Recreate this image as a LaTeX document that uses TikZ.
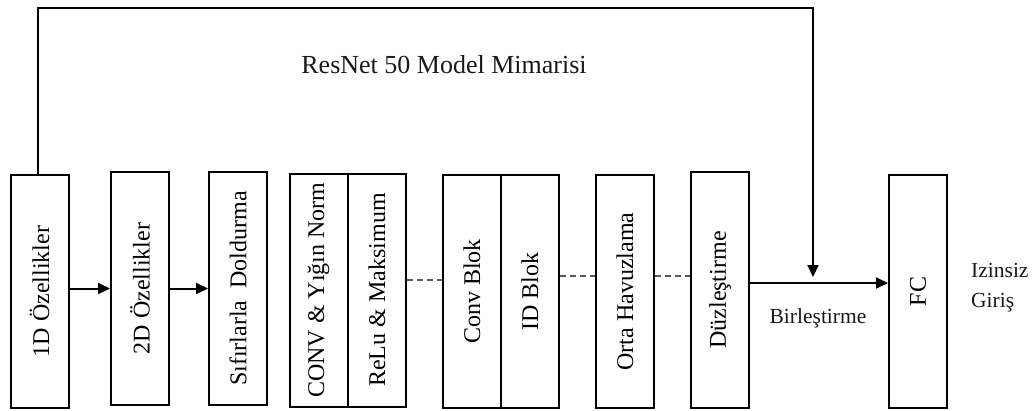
\documentclass[tikz,border=0pt]{standalone}
\usepackage{fontspec}
\setmainfont{Liberation Serif}
\usetikzlibrary{arrows.meta,calc}

\tikzset{
  blk/.style={draw=black, line width=2pt, inner sep=0pt,
    minimum width=58pt, minimum height=233pt,
    font=\fontsize{24}{28}\selectfont},
  flow/.style={line width=2pt, -{Triangle[length=12pt,width=11pt]}},
  gap/.style={line width=1.2pt, draw=black!65, dash pattern=on 6pt off 4pt},
  lbl/.style={font=\fontsize{21.5}{30}\selectfont, text=black!90},
}

\begin{document}
\begin{tikzpicture}[x=1pt,y=-1pt]
\useasboundingbox (0,0) rectangle (1034,410);

% processing stages
\node[blk] (b1)  at (39.5,291.5) {\rotatebox{90}{1D Özellikler}};
\node[blk] (b2)  at (140,288.5)  {\rotatebox{90}{2D Özellikler}};
\node[blk] (b3)  at (238,288.5)  {\rotatebox{90}{Sıfırlarla\ \ Doldurma}};
\node[blk] (b4a) at (318.5,290)  {\rotatebox{90}{CONV \& Yığın Norm}};
\node[blk] (b4b) at (377,290)    {\rotatebox{90}{ReLu \& Maksimum}};
\node[blk] (b5a) at (472,291.5)  {\rotatebox{90}{Conv Blok}};
\node[blk] (b5b) at (530,291.5)  {\rotatebox{90}{ID Blok}};
\node[blk] (b6)  at (625,291.5)  {\rotatebox{90}{Orta Havuzlama}};
\node[blk, minimum height=236pt] (b7) at (720,290) {\rotatebox{90}{Düzleştirme}};
\node[blk] (b8)  at (918,291.5)  {\rotatebox{90}{FC}};

% texts
\node[anchor=base, font=\fontsize{26}{30}\selectfont, text=black!90] (title) at (444,73) {ResNet 50 Model Mimarisi};
\node[lbl, anchor=base] (merge label) at (818,323) {Birleştirme};
\node[lbl, anchor=base west, align=left, inner sep=0pt] (out) at (971,307) {Izinsiz\\Giriş};

% solid arrows
\draw[flow] (b1.east |- b2.west) -- (b2.west);
\draw[flow] (b2.east |- b3.west) -- (b3.west);
\draw[flow] ([yshift=7pt]b7.east) -- ([yshift=7pt]b7.east -| b8.west);

% dashed links between the stacked blocks
\draw[gap] ([yshift=10pt]b4b.east) -- ([yshift=10pt]b4b.east -| b5a.west);
\draw[gap] ([yshift=15.5pt]b5b.east) -- ([yshift=15.5pt]b5b.east -| b6.west);
\draw[gap] ([yshift=15.5pt]b6.east) -- ([yshift=15.5pt]b6.east -| b7.west);

% skip connection from the 1D features to the merge point
\coordinate (corner) at (38,8);
\coordinate (merge) at (813,277);
\draw[line width=1.2pt] (b1.north -| corner) -- (corner);
\draw[line width=2pt, -{Triangle[length=12pt,width=11pt]}]
  ([xshift=-0.6pt]corner) -- (corner -| merge) -- (merge);
\end{tikzpicture}
\end{document}
